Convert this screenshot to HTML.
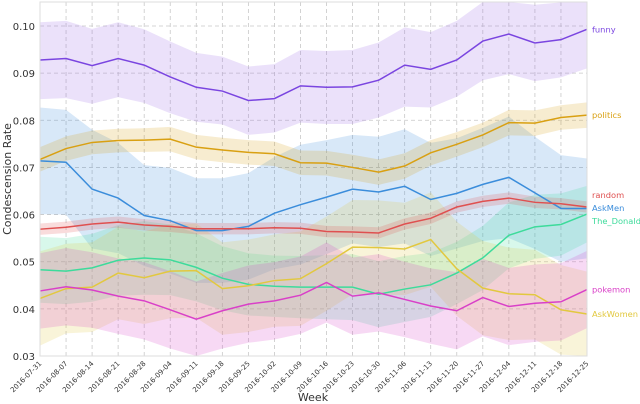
<!DOCTYPE html>
<html><head><meta charset="utf-8"><style>
body{margin:0;background:#fff;}
svg{display:block;font-family:"DejaVu Sans","Liberation Sans",sans-serif;}
</style></head><body>
<svg id="chart" width="640" height="404" viewBox="0 0 640 404" xmlns="http://www.w3.org/2000/svg">
<g id="grid"></g>
<g id="bands"></g>
<g id="lines"></g>
<rect x="40" y="2" width="547" height="354" fill="none" stroke="#ddd" stroke-width="1"/>
<g id="axes"></g>
<text x="11" y="179" transform="rotate(-90 11 179)" text-anchor="middle" font-size="11" fill="#333">Condescension Rate</text>
<text x="313" y="401" text-anchor="middle" font-size="11" fill="#333">Week</text>
</svg>
<script>
const weeks = ["2016-07-31","2016-08-07","2016-08-14","2016-08-21","2016-08-28","2016-09-04","2016-09-11","2016-09-18","2016-09-25","2016-10-02","2016-10-09","2016-10-16","2016-10-23","2016-10-30","2016-11-06","2016-11-13","2016-11-20","2016-11-27","2016-12-04","2016-12-11","2016-12-18","2016-12-25"];
const yTicks = [0.03,0.04,0.05,0.06,0.07,0.08,0.09,0.10];
const yTickLabels = ["0.03","0.04","0.05","0.06","0.07","0.08","0.09","0.10"];

const funnyVals = [0.0928,0.0931,0.0916,0.0931,0.0917,0.0892,0.0870,0.0862,0.0842,0.0846,0.0873,0.0870,0.0871,0.0885,0.0917,0.0908,0.0928,0.0968,0.0983,0.0964,0.0971,0.0993];
const funnyUpper = [0.1008,0.1011,0.0994,0.1008,0.0993,0.0967,0.0943,0.0935,0.0914,0.0919,0.0949,0.0947,0.0949,0.0965,0.0997,0.0987,0.1011,0.1052,0.1062,0.1045,0.1050,0.1050];
const funnyLower = [0.0845,0.0847,0.0835,0.0849,0.0837,0.0815,0.0797,0.0791,0.0769,0.0774,0.0795,0.0792,0.0792,0.0806,0.0829,0.0827,0.0850,0.0885,0.0898,0.0883,0.0891,0.0910];
const politicsVals = [0.0717,0.0740,0.0753,0.0757,0.0758,0.0760,0.0743,0.0737,0.0732,0.0729,0.0710,0.0709,0.0700,0.0690,0.0703,0.0731,0.0749,0.0769,0.0795,0.0794,0.0806,0.0811];
const politicsErr = [0.0026,0.0026,0.0025,0.0025,0.0025,0.0026,0.0026,0.0026,0.0026,0.0026,0.0026,0.0026,0.0027,0.0027,0.0027,0.0027,0.0026,0.0026,0.0027,0.0027,0.0026,0.0027];
const askmenVals = [0.0714,0.0711,0.0654,0.0635,0.0598,0.0587,0.0566,0.0566,0.0575,0.0603,0.0621,0.0637,0.0654,0.0648,0.0660,0.0632,0.0645,0.0664,0.0679,0.0646,0.0613,0.0613];
const askmenErr = [0.0113,0.0111,0.0126,0.0117,0.0107,0.0112,0.0111,0.0111,0.0113,0.0119,0.0127,0.0121,0.0115,0.0117,0.0121,0.0120,0.0117,0.0120,0.0129,0.0119,0.0113,0.0106];
const randomVals = [0.0569,0.0573,0.0580,0.0584,0.0578,0.0575,0.0570,0.0570,0.0570,0.0572,0.0571,0.0564,0.0563,0.0561,0.0580,0.0592,0.0616,0.0628,0.0635,0.0626,0.0623,0.0616];
const randomErr = [0.0012,0.0012,0.0012,0.0012,0.0012,0.0012,0.0012,0.0012,0.0012,0.0012,0.0012,0.0012,0.0012,0.0012,0.0012,0.0012,0.0012,0.0012,0.0012,0.0012,0.0012,0.0012];
const donaldVals = [0.0483,0.0480,0.0487,0.0503,0.0508,0.0504,0.0488,0.0465,0.0452,0.0448,0.0446,0.0446,0.0446,0.0431,0.0442,0.0451,0.0476,0.0508,0.0556,0.0574,0.0579,0.0601];
const donaldErr = [0.0070,0.0070,0.0072,0.0075,0.0078,0.0075,0.0072,0.0068,0.0066,0.0065,0.0066,0.0068,0.0070,0.0070,0.0070,0.0068,0.0066,0.0068,0.0070,0.0068,0.0066,0.0060];
const askwomenVals = [0.0422,0.0443,0.0446,0.0476,0.0466,0.0480,0.0481,0.0443,0.0449,0.0460,0.0464,0.0496,0.0531,0.0530,0.0527,0.0547,0.0485,0.0444,0.0432,0.0430,0.0398,0.0389];
const askwomenErr = [0.0100,0.0095,0.0095,0.0098,0.0098,0.0100,0.0100,0.0098,0.0098,0.0098,0.0100,0.0100,0.0100,0.0100,0.0098,0.0100,0.0100,0.0100,0.0098,0.0095,0.0095,0.0090];
const pokemonVals = [0.0438,0.0447,0.0440,0.0427,0.0417,0.0398,0.0378,0.0396,0.0410,0.0417,0.0429,0.0456,0.0427,0.0434,0.0420,0.0406,0.0396,0.0424,0.0405,0.0412,0.0415,0.0441];
const pokemonErr = [0.0080,0.0082,0.0080,0.0080,0.0082,0.0082,0.0080,0.0080,0.0082,0.0082,0.0082,0.0085,0.0082,0.0082,0.0080,0.0080,0.0082,0.0082,0.0082,0.0082,0.0082,0.0082];

const NS = "http://www.w3.org/2000/svg";
const L = 40, R = 587, T = 2, B = 356;
const x = i => L + (R - L) * i / (weeks.length - 1);
const y = v => 356 - (v - 0.03) / 0.07 * 330;
const clampY = v => Math.max(T, Math.min(B, y(v)));
function mk(tag, attrs, parent){ const e = document.createElementNS(NS, tag); for (const k in attrs) e.setAttribute(k, attrs[k]); parent.appendChild(e); return e; }

const grid = document.getElementById('grid'), axes = document.getElementById('axes');
yTicks.forEach((t, i) => {
  const gl = mk('line', {x1:L, x2:R, y1:y(t), y2:y(t), stroke:'#c8c8c8', 'stroke-dasharray':'4,3', 'stroke-width':0.8}, grid);
  
  
  const tx = mk('text', {x:L-5, y:y(t)+4, 'text-anchor':'end', 'font-size':10, fill:'#333'}, axes);
  tx.textContent = yTickLabels[i];
  
  
});
weeks.forEach((w, i) => {
  const gl = mk('line', {x1:x(i), x2:x(i), y1:T, y2:B, stroke:'#c8c8c8', 'stroke-dasharray':'4,3', 'stroke-width':0.8}, grid);
  
  
  const tx = mk('text', {x:x(i)+2, y:B+8, 'text-anchor':'end', 'font-size':7, fill:'#333', transform:`rotate(-45 ${x(i)+2} ${B+8})`}, axes);
  tx.textContent = w;
  
  
});

function band(lo, hi, color, name){
  const pts = hi.map((v,i)=>`${x(i)},${clampY(v)}`).concat(lo.map((v,i)=>`${x(i)},${clampY(v)}`).reverse());
  const p = mk('polygon', {points:pts.join(' '), fill:color, 'fill-opacity':0.2}, document.getElementById('bands'));
  
  
}
function line(vals, color, name, label, ly){
  const p = mk('polyline', {points:vals.map((v,i)=>`${x(i)},${y(v)}`).join(' '), fill:'none', stroke:color, 'stroke-width':1.5}, document.getElementById('lines'));
  
  
  const t = mk('text', {x:592, y:(ly !== undefined ? ly : y(vals[vals.length-1])) + 3, 'font-size':8.3, fill:color}, document.getElementById('lines'));
  t.textContent = label;
  
  
}
const sub = (a,e)=>a.map((v,i)=>v-e[i]), add=(a,e)=>a.map((v,i)=>v+e[i]);
const C = {funny:'#7a45e0', politics:'#d9a012', askmen:'#3b8ddb', random:'#df5050', donald:'#3ddb9b', askwomen:'#e2c83f', pokemon:'#d940c8'};
band(funnyLower, funnyUpper, '#9a6ae6', 'funny');
band(sub(askmenVals,askmenErr), add(askmenVals,askmenErr), C.askmen, 'askmen');
band(sub(politicsVals,politicsErr), add(politicsVals,politicsErr), C.politics, 'politics');
band(sub(donaldVals,donaldErr), add(donaldVals,donaldErr), C.donald, 'the-donald');
band(sub(askwomenVals,askwomenErr), add(askwomenVals,askwomenErr), C.askwomen, 'askwomen');
band(sub(pokemonVals,pokemonErr), add(pokemonVals,pokemonErr), C.pokemon, 'pokemon');
band(sub(randomVals,randomErr), add(randomVals,randomErr), C.random, 'random');
line(funnyVals, C.funny, 'funny', 'funny');
line(politicsVals, C.politics, 'politics', 'politics');
line(askmenVals, C.askmen, 'askmen', 'AskMen', 208);
line(randomVals, C.random, 'random', 'random', 195);
line(donaldVals, C.donald, 'the-donald', 'The_Donald', 221);
line(askwomenVals, C.askwomen, 'askwomen', 'AskWomen');
line(pokemonVals, C.pokemon, 'pokemon', 'pokemon');
</script>
</body></html>
